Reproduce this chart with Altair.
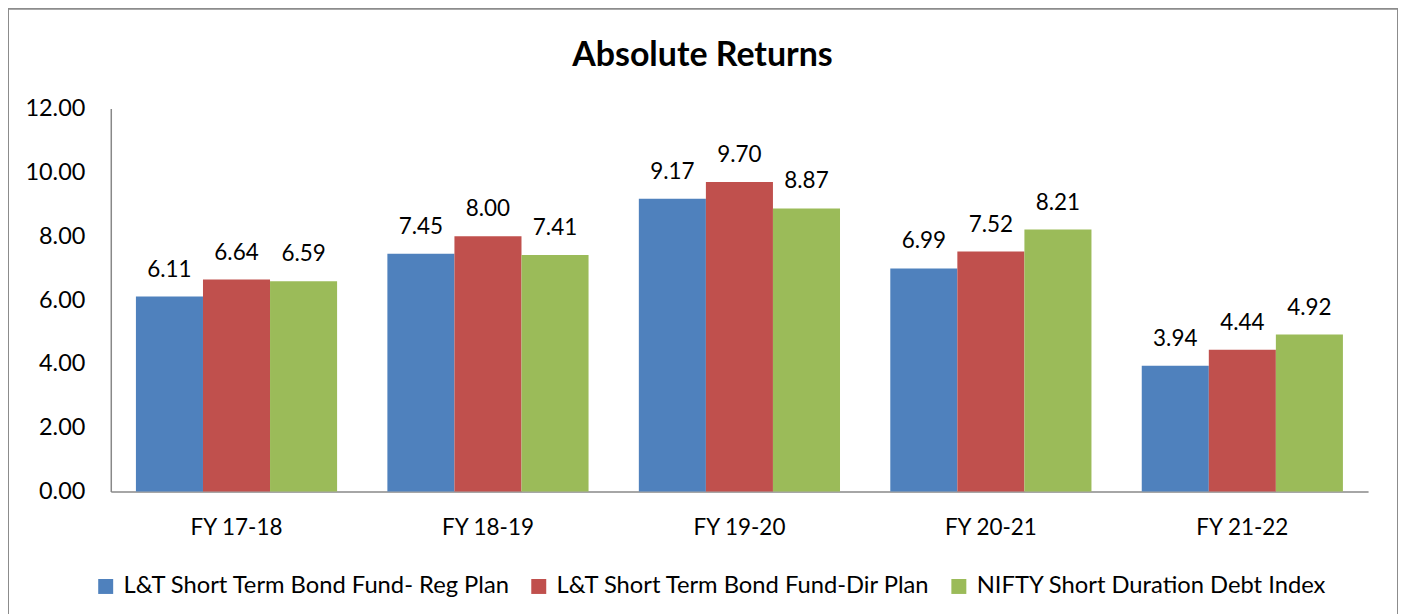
import altair as alt
import pandas as pd

categories = ["FY 17-18", "FY 18-19", "FY 19-20", "FY 20-21", "FY 21-22"]
series = [
    "L&T Short Term Bond Fund- Reg Plan",
    "L&T Short Term Bond Fund-Dir Plan",
    "NIFTY Short Duration Debt Index",
]
reg_plan = [6.11, 7.45, 9.17, 6.99, 3.94]
dir_plan = [6.64, 8.00, 9.70, 7.52, 4.44]
nifty = [6.59, 7.41, 8.87, 8.21, 4.92]
colors = ["#4F81BD", "#C0504D", "#9BBB59"]
title_text = "Absolute Returns"

rows = []
for s, vals in zip(series, [reg_plan, dir_plan, nifty]):
    for c, v in zip(categories, vals):
        rows.append({"year": c, "series": s, "value": v})
df = pd.DataFrame(rows)

FONT = "Lato"

x = alt.X("year:N", sort=categories, title=None,
          scale=alt.Scale(paddingInner=0.2, paddingOuter=0.1),
          axis=alt.Axis(labelAngle=0, labelFontSize=22.5, labelFont=FONT, labelColor="#000000",
                        ticks=False, domainColor="#888888", domainWidth=1.5, labelPadding=25,
                        grid=False))
xo = alt.XOffset("series:N", sort=series, scale=alt.Scale(paddingInner=0, paddingOuter=0))
y = alt.Y("value:Q", title=None,
          scale=alt.Scale(domain=[0, 12], nice=False, zero=True),
          axis=alt.Axis(values=[0, 2, 4, 6, 8, 10, 12], format=".2f", labelFontSize=23.5,
                        labelFont=FONT, labelColor="#000000", ticks=False, grid=False,
                        domainColor="#888888", domainWidth=1.5, labelPadding=26))

bars = alt.Chart(df).mark_bar().encode(
    x=x, xOffset=xo, y=y,
    color=alt.Color("series:N", sort=series,
                    scale=alt.Scale(domain=series, range=colors),
                    legend=alt.Legend(title=None, orient="none", legendX=-17, legendY=467,
                                      direction="horizontal", symbolType="square",
                                      symbolSize=225, symbolStrokeWidth=0, labelFont=FONT,
                                      labelFontSize=23.8, labelColor="#000000", labelOffset=6,
                                      columnPadding=16, labelLimit=700)),
)

labels = alt.Chart(df).mark_text(baseline="alphabetic", dy=-20, font=FONT, fontSize=22.5,
                                 color="#000000").encode(
    x=alt.X("year:N", sort=categories), xOffset=alt.XOffset("series:N", sort=series),
    y="value:Q",
    text=alt.Text("value:Q", format=".2f"),
)

one = pd.DataFrame({"t": [title_text]})

border = alt.Chart(one).mark_rect(
    fill=None, stroke="#8c8c8c", strokeWidth=2
).encode(x=alt.value(-103), x2=alt.value(1290), y=alt.value(-100), y2=alt.value(640))

title = alt.Chart(one).mark_text(
    font=FONT, fontSize=34, fontWeight="bold", color="#000000", align="center",
    baseline="alphabetic"
).encode(x=alt.value(593), y=alt.value(-43), text="t:N")

chart = alt.layer(border, title, bars, labels).properties(
    width=1260, height=384,
    padding={"left": 103, "top": 100, "right": 30, "bottom": 130},
    autosize=alt.AutoSizeParams(type="none"),
).configure_view(stroke=None)

chart.save("out.html", embed_options={"renderer": "svg", "actions": False})
